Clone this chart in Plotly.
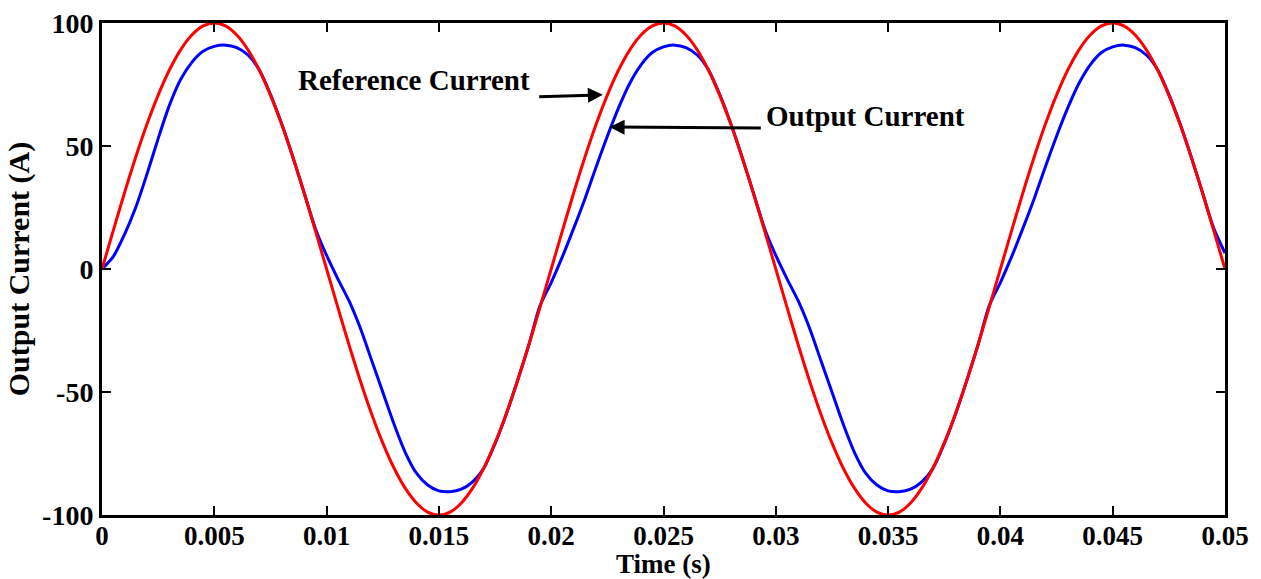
import plotly.graph_objects as go

# time samples (s)
time_s = [round(i * 0.0005, 4) for i in range(101)]

# Reference current (A), every 0.5 ms
ref_half = [0, 15.6, 30.9, 45.4, 58.8, 70.7, 80.9, 89.1, 95.1, 98.8, 100,
            98.8, 95.1, 89.1, 80.9, 70.7, 58.8, 45.4, 30.9, 15.6]
reference_current = (ref_half + [-v for v in ref_half]) * 2 + ref_half + [0]

# Output current (A), every 0.5 ms
out_cycle1 = [0, 5, 14, 25, 38.5, 53, 66.5, 77, 84, 88.5, 90.5, 91, 90, 87, 81, 71, 59, 45.4, 31, 16.5,
              5.5, -4, -13, -24, -37, -50, -63, -74.5, -83, -87.8, -90.2, -90.5, -89.5, -86.5, -81, -71, -59, -45.4, -31, -15]
out_cycle2 = [-5.5, 5, 16.5, 28.5, 41.5, 54, 65.5, 75.5, 83, 88, 90.3, 91, 90, 87, 81, 71, 59, 45.4, 31, 16.5,
              5.5, -4, -13, -24, -37, -50, -63, -74.5, -83, -87.8, -90.2, -90.5, -89.5, -86.5, -81, -71, -59, -45.4, -31, -15]
out_cycle3 = [-5.5, 5, 16.5, 28.5, 41.5, 54, 65.5, 75.5, 83, 88, 90.3, 91, 90, 87, 81, 71, 59, 45.4, 31, 16.5, 6.5]
output_current = out_cycle1 + out_cycle2 + out_cycle3

x_ticks = [0, 0.005, 0.01, 0.015, 0.02, 0.025, 0.03, 0.035, 0.04, 0.045, 0.05]
x_tick_labels = ["0", "0.005", "0.01", "0.015", "0.02", "0.025", "0.03", "0.035", "0.04", "0.045", "0.05"]
y_ticks = [-100, -50, 0, 50, 100]
y_tick_labels = ["-100", "-50", "0", "50", "100"]

FONT = "Liberation Serif"

fig = go.Figure()
fig.add_trace(go.Scatter(x=time_s, y=output_current, mode="lines",
                         line=dict(color="#0000ff", width=3, shape="spline", smoothing=0.8),
                         name="Output Current"))
fig.add_trace(go.Scatter(x=time_s, y=reference_current, mode="lines",
                         line=dict(color="#ff0000", width=3, shape="spline", smoothing=0.8),
                         name="Reference Current"))

axis_common = dict(showline=True, linecolor="black", linewidth=3, mirror="ticks",
                   ticks="inside", ticklen=9, tickwidth=2, tickcolor="black",
                   showgrid=False, zeroline=False, automargin=False)

fig.update_xaxes(range=[0, 0.05], tickvals=x_ticks, ticktext=["<b>%s</b>" % t for t in x_tick_labels],
                 tickfont=dict(family=FONT, size=27, color="black"), ticklabelstandoff=-5,
                 **axis_common)
fig.update_yaxes(range=[-100, 100], tickvals=y_ticks, ticktext=["<b>%s</b>" % t for t in y_tick_labels],
                 tickfont=dict(family=FONT, size=28, color="black"),
                 title=dict(text="<b>Output Current (A)</b>", font=dict(family=FONT, size=30, color="black"), standoff=4),
                 **axis_common)

# x-axis title placed just under the tick labels
fig.add_annotation(x=0.5, y=-0.1, xref="paper", yref="paper", xanchor="center", yanchor="middle",
                   showarrow=False, text="<b>Time (s)</b>", font=dict(family=FONT, size=27, color="black"))

fig.add_annotation(x=0.0223, y=70.8, ax=0.0194, ay=70.0, xref="x", yref="y", axref="x", ayref="y",
                   showarrow=True, arrowhead=2, arrowsize=1, arrowwidth=3, arrowcolor="black", text="")
fig.add_annotation(x=0.0226, y=57.7, ax=0.0294, ay=57.3, xref="x", yref="y", axref="x", ayref="y",
                   showarrow=True, arrowhead=2, arrowsize=1, arrowwidth=3, arrowcolor="black", text="")
fig.add_annotation(x=0.01389, y=77, xref="x", yref="y", showarrow=False,
                   text="<b>Reference Current</b>", font=dict(family=FONT, size=29, color="black"))
fig.add_annotation(x=0.0340, y=62, xref="x", yref="y", showarrow=False,
                   text="<b>Output Current</b>", font=dict(family=FONT, size=29, color="black"))

fig.update_layout(width=1261, height=579, margin=dict(l=102, r=36, t=23, b=64, autoexpand=False),
                  plot_bgcolor="white", paper_bgcolor="white", showlegend=False)

fig.write_html("out.html")
